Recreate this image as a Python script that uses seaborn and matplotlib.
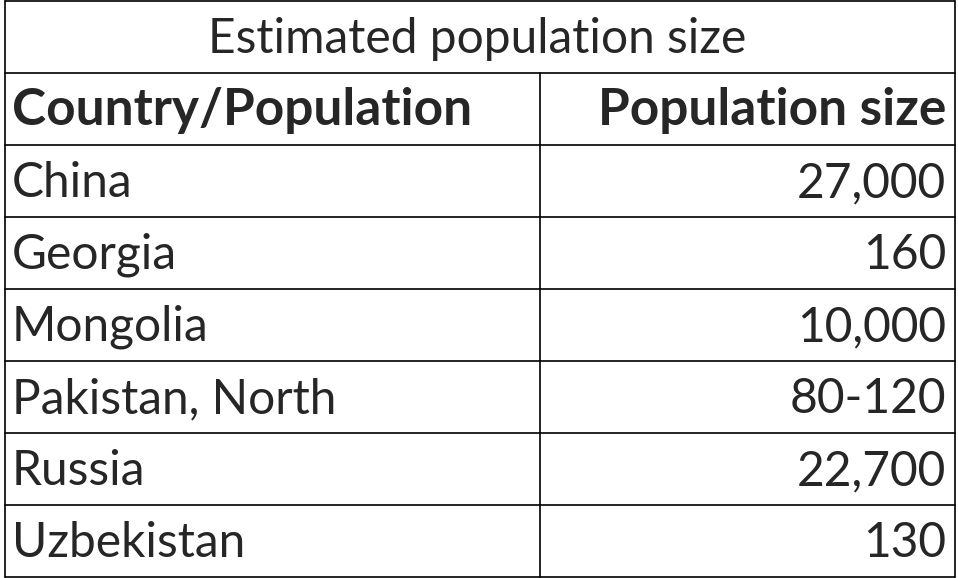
import matplotlib
matplotlib.use("Agg")
import matplotlib.pyplot as plt
import seaborn as sns

title = "Estimated population size"
headers = ["Country/Population", "Population size"]
countries = ["China", "Georgia", "Mongolia", "Pakistan, North", "Russia", "Uzbekistan"]
sizes = ["27,000", "160", "10,000", "80-120", "22,700", "130"]

sns.set_theme(style="white")
W, H = 958, 578
fig = plt.figure(figsize=(W/100, H/100), dpi=100)
ax = fig.add_axes([0, 0, 1, 1])
ax.set_xlim(0, W); ax.set_ylim(H, 0); ax.axis("off")
fam = "Lato"
L, R, mid = 5, 955, 540
rows = [1, 73, 145, 217, 289, 361, 433, 505, 577]
lc = "black"; lw = 1.2
for y in rows:
    ax.plot([L, R], [y, y], color=lc, lw=lw)
ax.plot([L, L], [rows[0], rows[-1]], color=lc, lw=lw)
ax.plot([R, R], [rows[0], rows[-1]], color=lc, lw=lw)
ax.plot([mid, mid], [rows[1], rows[-1]], color=lc, lw=lw)
fs = 34.5
fb = 37
ax.text(W/2 - 2, (rows[0]+rows[1])/2 + 2, title, ha="center", va="center", fontsize=fs, family=fam)
ax.text(12, (rows[1]+rows[2])/2 + 2, headers[0], ha="left", va="center", fontsize=fb, family=fam, weight="bold")
ax.text(946, (rows[1]+rows[2])/2 + 2, headers[1], ha="right", va="center", fontsize=fb, family=fam, weight="bold")
for i, (c, s) in enumerate(zip(countries, sizes)):
    yc = (rows[i+2] + rows[i+3]) / 2 + 2
    ax.text(12, yc, c, ha="left", va="center", fontsize=fs, family=fam)
    ax.text(946, yc, s, ha="right", va="center", fontsize=fs, family=fam)
fig.savefig("out.png", dpi=100, facecolor="white")
